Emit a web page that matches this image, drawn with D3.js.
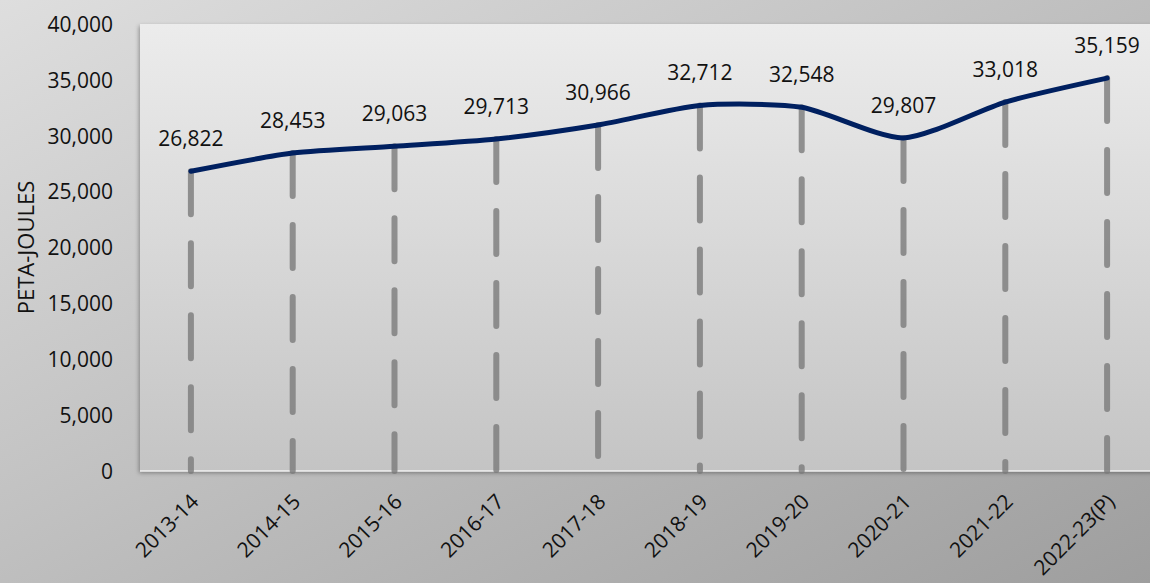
<!DOCTYPE html>
<html>
<head>
<meta charset="utf-8">
<script src="https://cdn.jsdelivr.net/npm/d3@7"></script>
<style>
  body { margin: 0; overflow: hidden; }
  svg text { font-family: "Open Sans", "Noto Sans", sans-serif; fill: #111; }
</style>
</head>
<body>
<div id="chart"></div>
<script>
// data
var years = ['2013-14', '2014-15', '2015-16', '2016-17', '2017-18',
             '2018-19', '2019-20', '2020-21', '2021-22', '2022-23(P)'];
var energy = [26822, 28453, 29063, 29713, 30966, 32712, 32548, 29807, 33018, 35159];
var yTicks = [0, 5000, 10000, 15000, 20000, 25000, 30000, 35000, 40000];

var width = 1150, height = 583,
    margins = {left: 140, right: -8, top: 24, bottom: 112};

var svg = d3.select('#chart')
    .append('svg')
        .attr('width', width)
        .attr('height', height);

var defs = svg.append('defs');

// Background gradient
var bg = defs.append('linearGradient')
    .attr('id', 'bg')
    .attr('x1', '0%').attr('y1', '0%').attr('x2', '100%').attr('y2', '100%');
bg.append('stop').attr('offset', '0%').attr('stop-color', '#dedede');
bg.append('stop').attr('offset', '100%').attr('stop-color', '#9e9e9e');

var plotBg = defs.append('linearGradient')
    .attr('id', 'plotBg')
    .attr('x1', '0%').attr('y1', '0%').attr('x2', '0%').attr('y2', '100%');
plotBg.append('stop').attr('offset', '0%').attr('stop-color', '#ececec');
plotBg.append('stop').attr('offset', '100%').attr('stop-color', '#c4c4c4');

var shadow = defs.append('filter').attr('id', 'shadow')
    .attr('x', '-5%').attr('y', '-5%').attr('width', '110%').attr('height', '110%');
shadow.append('feDropShadow')
    .attr('dx', -1).attr('dy', 2).attr('stdDeviation', 2)
    .attr('flood-color', '#000').attr('flood-opacity', 0.35);

svg.append('rect')
    .attr('width', width)
    .attr('height', height)
    .attr('fill', 'url(#bg)');

var plotW = width - margins.left - margins.right,
    plotH = height - margins.top - margins.bottom;

// Scales
var xScale = d3.scalePoint()
    .domain(years)
    .range([margins.left, margins.left + plotW])
    .padding(0.5);

var yScale = d3.scaleLinear()
    .domain([0, 40000])
    .range([margins.top + plotH, margins.top]);

// Plot area
svg.append('rect')
    .attr('x', margins.left)
    .attr('y', margins.top)
    .attr('width', plotW)
    .attr('height', plotH)
    .attr('fill', 'url(#plotBg)')
    .attr('filter', 'url(#shadow)');

svg.append('line')
    .attr('x1', margins.left).attr('x2', margins.left + plotW)
    .attr('y1', yScale(0)).attr('y2', yScale(0))
    .attr('stroke', '#f2f2f2')
    .attr('stroke-width', 1.5);

// Drop lines
svg.selectAll('.drop')
    .data(energy)
    .enter()
    .append('line')
        .attr('class', 'drop')
        .attr('x1', function(d, i) { return xScale(years[i]); })
        .attr('x2', function(d, i) { return xScale(years[i]); })
        .attr('y1', function(d) { return yScale(d); })
        .attr('y2', yScale(0))
        .attr('stroke', '#7a7a7a')
        .attr('stroke-opacity', 0.8)
        .attr('stroke-width', 6)
        .attr('stroke-linecap', 'round')
        .attr('stroke-dasharray', '43,29');

// Line
var line = d3.line()
    .x(function(d, i) { return xScale(years[i]); })
    .y(function(d) { return yScale(d); })
    .curve(d3.curveCardinal.tension(0.3));

svg.append('path')
    .datum(energy)
    .attr('d', line)
    .attr('fill', 'none')
    .attr('stroke', '#002060')
    .attr('stroke-width', 5)
    .attr('stroke-linecap', 'round')
    .attr('stroke-linejoin', 'round');

// Value labels
svg.selectAll('.value')
    .data(energy)
    .enter()
    .append('text')
        .attr('class', 'value')
        .attr('x', function(d, i) { return xScale(years[i]); })
        .attr('y', function(d) { return yScale(d) - 25; })
        .attr('text-anchor', 'middle')
        .attr('font-size', 21)
        .text(function(d) { return d3.format(',')(d); });

// Y axis
var yAxis = svg.append('g')
    .attr('transform', 'translate(' + (margins.left - 24) + ',0)')
    .call(d3.axisLeft(yScale).tickValues(yTicks).tickSize(0).tickFormat(d3.format(',')));
yAxis.select('.domain').remove();
yAxis.selectAll('text')
    .attr('font-size', 21)
    .attr('font-family', '"Open Sans", "Noto Sans", sans-serif')
    .attr('fill', '#111')
    .attr('dy', '0.35em');

svg.append('text')
    .attr('transform', 'translate(34,' + (margins.top + plotH / 2) + ') rotate(-90)')
    .attr('text-anchor', 'middle')
    .attr('font-size', 22)
    .text('PETA-JOULES');

// X axis labels
svg.selectAll('.xlab')
    .data(years)
    .enter()
    .append('text')
        .attr('class', 'xlab')
        .attr('text-anchor', 'end')
        .attr('font-size', 21)
        .attr('transform', function(d) {
            return 'translate(' + (xScale(d) + 9) + ',' + (yScale(0) + 32) + ') rotate(-45)';
        })
        .text(function(d) { return d; });
</script>
</body>
</html>
